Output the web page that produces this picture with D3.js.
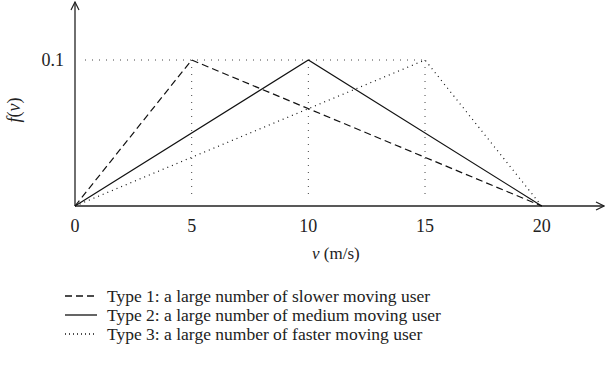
<!DOCTYPE html>
<html>
<head>
<meta charset="utf-8">
<script src="https://cdn.jsdelivr.net/npm/d3@7"></script>
<style>
  body { margin: 0; background: #fff; }
  text { font-family: "Liberation Serif", "DejaVu Serif", serif; fill: #222; }
</style>
</head>
<body>
<svg id="chart" width="605" height="372"></svg>
<script>
// corners of the three triangular speed pdfs
const xTicks = [0, 5, 10, 15, 20];
const yTicks = [0.1];
const guideSpeeds = [5, 10, 15];
const type1 = [[0, 0], [5, 0.1], [20, 0]];
const type2 = [[0, 0], [10, 0.1], [20, 0]];
const type3 = [[0, 0], [15, 0.1], [20, 0]];
const legendLabels = [
    "Type 1: a large number of slower moving user",
    "Type 2: a large number of medium moving user",
    "Type 3: a large number of faster moving user"
];
const dashes = ["7,4", null, "1,4"];
const legendDashes = ["7,4", null, "1,3"];

const svg = d3.select("#chart");

const x = d3.scaleLinear().domain([0, 20]).range([75, 541.7]);
const y = d3.scaleLinear().domain([0, 0.1]).range([206, 60]);

// arrow head
svg.append("defs").append("marker")
    .attr("id", "arrow")
    .attr("viewBox", "0 0 10 10")
    .attr("refX", 9).attr("refY", 5)
    .attr("markerWidth", 10).attr("markerHeight", 10)
    .attr("markerUnits", "userSpaceOnUse")
    .attr("orient", "auto")
    .append("path")
    .attr("d", "M1,1 L9,5 L1,9")
    .attr("fill", "none")
    .attr("stroke", "#222")
    .attr("stroke-width", 1.2);

// dotted guide lines
svg.append("line")
    .attr("x1", x(0) + 10).attr("x2", x(15))
    .attr("y1", y(0.1)).attr("y2", y(0.1))
    .attr("stroke", "#444").attr("stroke-width", 1)
    .attr("stroke-dasharray", "1,6");
guideSpeeds.forEach(function (v) {
    svg.append("line")
        .attr("x1", x(v)).attr("x2", x(v))
        .attr("y1", y(0.1)).attr("y2", y(0) - 6)
        .attr("stroke", "#444").attr("stroke-width", 1)
        .attr("stroke-dasharray", "1,6");
});

// axes
svg.append("line")
    .attr("x1", x(0)).attr("y1", y(0))
    .attr("x2", 604).attr("y2", y(0))
    .attr("stroke", "#222").attr("stroke-width", 1.3)
    .attr("marker-end", "url(#arrow)");
svg.append("line")
    .attr("x1", x(0)).attr("y1", y(0))
    .attr("x2", x(0)).attr("y2", 2)
    .attr("stroke", "#222").attr("stroke-width", 1.3)
    .attr("marker-end", "url(#arrow)");

// tick labels
svg.selectAll(".xtick").data(xTicks).enter().append("text")
    .attr("class", "xtick")
    .attr("x", d => x(d))
    .attr("y", 232)
    .attr("text-anchor", "middle")
    .style("font-size", "18px")
    .text(d => d);
svg.selectAll(".ytick").data(yTicks).enter().append("text")
    .attr("class", "ytick")
    .attr("x", 64)
    .attr("y", y(0.1) + 6)
    .attr("text-anchor", "end")
    .style("font-size", "18px")
    .text(d => d);

// axis titles
svg.append("text")
    .attr("x", 312).attr("y", 259)
    .style("font-size", "17px")
    .html('<tspan font-style="italic">ν</tspan> (m/s)');
svg.append("text")
    .attr("transform", "translate(20,110) rotate(-90)")
    .attr("text-anchor", "middle")
    .style("font-size", "18px")
    .html('<tspan font-style="italic">f</tspan>(<tspan font-style="italic">ν</tspan>)');

// series
const line = d3.line().x(d => x(d[0])).y(d => y(d[1]));
[type1, type2, type3].forEach(function (s, i) {
    svg.append("path")
        .datum(s)
        .attr("d", line)
        .attr("fill", "none")
        .attr("stroke", "#111")
        .attr("stroke-width", 1.2)
        .attr("stroke-dasharray", dashes[i]);
});

// legend
const legend = svg.append("g").attr("transform", "translate(65, 296)");
legendLabels.forEach(function (label, i) {
    const row = legend.append("g").attr("transform", "translate(0," + (i * 19) + ")");
    row.append("line")
        .attr("x1", 0).attr("x2", 32)
        .attr("y1", 0).attr("y2", 0)
        .attr("stroke", "#111")
        .attr("stroke-width", 1.3)
        .attr("stroke-dasharray", legendDashes[i]);
    row.append("text")
        .attr("x", 42).attr("y", 6)
        .style("font-size", "17.5px")
        .text(label);
});
</script>
</body>
</html>
